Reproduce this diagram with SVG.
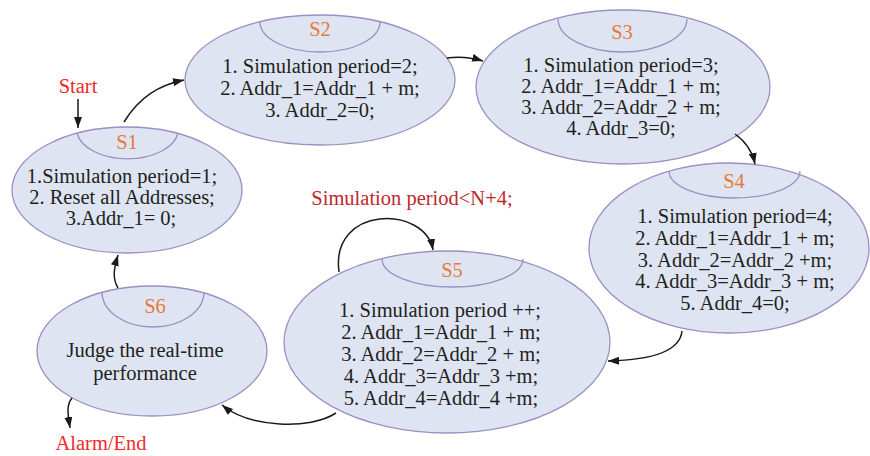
<svg xmlns="http://www.w3.org/2000/svg" width="870" height="456" viewBox="0 0 870 456" font-family="'Liberation Serif', 'Times New Roman', 'DejaVu Serif', serif">
<style>
.node ellipse{fill:#dfe4f2;stroke:#9b8fc4;stroke-width:1.3}
.node path{fill:none;stroke:#9b8fc4;stroke-width:1.3}
text{font-family:'Liberation Serif','Times New Roman','DejaVu Serif',serif;font-size:20.5px;text-anchor:middle}
.t{fill:#231f20}
.lbl{fill:#e8793a}
.red{fill:#ee2a2a}
.dred{fill:#c1272d}
.conn path{fill:none;stroke:#1a1a1a;stroke-width:1.5;marker-end:url(#arr)}
</style>
<defs>
<marker id="arr" markerUnits="userSpaceOnUse" markerWidth="12" markerHeight="8" refX="11" refY="4" orient="auto">
<path d="M0,0 L11,4 L0,8 z" fill="#1a1a1a"/>
</marker>
</defs>
<rect width="870" height="456" fill="#ffffff"/>
<g id="S1" class="node">
<ellipse cx="127" cy="190" rx="115" ry="63"/>
<path d="M77,133 A51,30 0 0 0 178,133"/>
<text class="lbl" x="127" y="149">S1</text>
<text class="t" x="122" y="183">1.Simulation period=1;</text>
<text class="t" x="122" y="204">2. Reset all Addresses;</text>
<text class="t" x="121" y="225">3.Addr_1= 0;</text>
</g>
<g id="S2" class="node">
<ellipse cx="320" cy="80" rx="135" ry="65"/>
<path d="M260,22 A60,30 0 0 0 380,22"/>
<text class="lbl" x="320" y="36">S2</text>
<text class="t" x="320" y="73">1. Simulation period=2;</text>
<text class="t" x="320" y="95">2. Addr_1=Addr_1 + m;</text>
<text class="t" x="320" y="117">3. Addr_2=0;</text>
</g>
<g id="S3" class="node">
<ellipse cx="623" cy="87" rx="147" ry="77"/>
<path d="M558,19 A64.5,33 0 0 0 687,19"/>
<text class="lbl" x="622" y="39">S3</text>
<text class="t" x="621" y="72">1. Simulation period=3;</text>
<text class="t" x="621" y="93">2. Addr_1=Addr_1 + m;</text>
<text class="t" x="621" y="114">3. Addr_2=Addr_2 + m;</text>
<text class="t" x="621" y="135">4. Addr_3=0;</text>
</g>
<g id="S4" class="node">
<ellipse cx="729" cy="248" rx="140" ry="85"/>
<path d="M669,171 A65.5,27 0 0 0 800,171"/>
<text class="lbl" x="734" y="188">S4</text>
<text class="t" x="735" y="223">1. Simulation period=4;</text>
<text class="t" x="735" y="245">2. Addr_1=Addr_1 + m;</text>
<text class="t" x="735" y="267">3. Addr_2=Addr_2 +m;</text>
<text class="t" x="735" y="288">4. Addr_3=Addr_3 + m;</text>
<text class="t" x="735" y="310">5. Addr_4=0;</text>
</g>
<g id="S5" class="node">
<ellipse cx="447" cy="342" rx="163" ry="91"/>
<path d="M382,259 A70.5,28 0 0 0 523,259"/>
<text class="lbl" x="452" y="277">S5</text>
<text class="t" x="440" y="317">1. Simulation period ++;</text>
<text class="t" x="441" y="339">2. Addr_1=Addr_1 + m;</text>
<text class="t" x="441" y="361">3. Addr_2=Addr_2 + m;</text>
<text class="t" x="441" y="383">4. Addr_3=Addr_3 +m;</text>
<text class="t" x="441" y="405">5. Addr_4=Addr_4 +m;</text>
</g>
<g id="S6" class="node">
<ellipse cx="152" cy="351" rx="115" ry="65"/>
<path d="M102,292 A51,35 0 0 0 204,292"/>
<text class="lbl" x="155" y="313">S6</text>
<text class="t" x="145" y="357">Judge the real-time</text>
<text class="t" x="145" y="380">performance</text>
</g>
<g id="labels">
<text class="red" x="78" y="93">Start</text>
<text class="dred" x="412" y="205">Simulation period&lt;N+4;</text>
<text class="red" x="101" y="450">Alarm/End</text>
</g>
<g id="connectors" class="conn">
<path d="M78,99 L78,128"/>
<path d="M124,122 C140,96 160,85 184,80"/>
<path d="M447,58 C460,56 470,57 483,61"/>
<path d="M735,134 C745,141 752,150 755,164"/>
<path d="M682,331 C680,352 650,360 608,361"/>
<path d="M339,272 C330,205 425,205 433,250"/>
<path d="M336,413 C310,430 250,428 222,405"/>
<path d="M118,288 C112,278 114,268 118,255"/>
<path d="M72,398 C66,405 68,415 70,428"/>
</g>
</svg>
